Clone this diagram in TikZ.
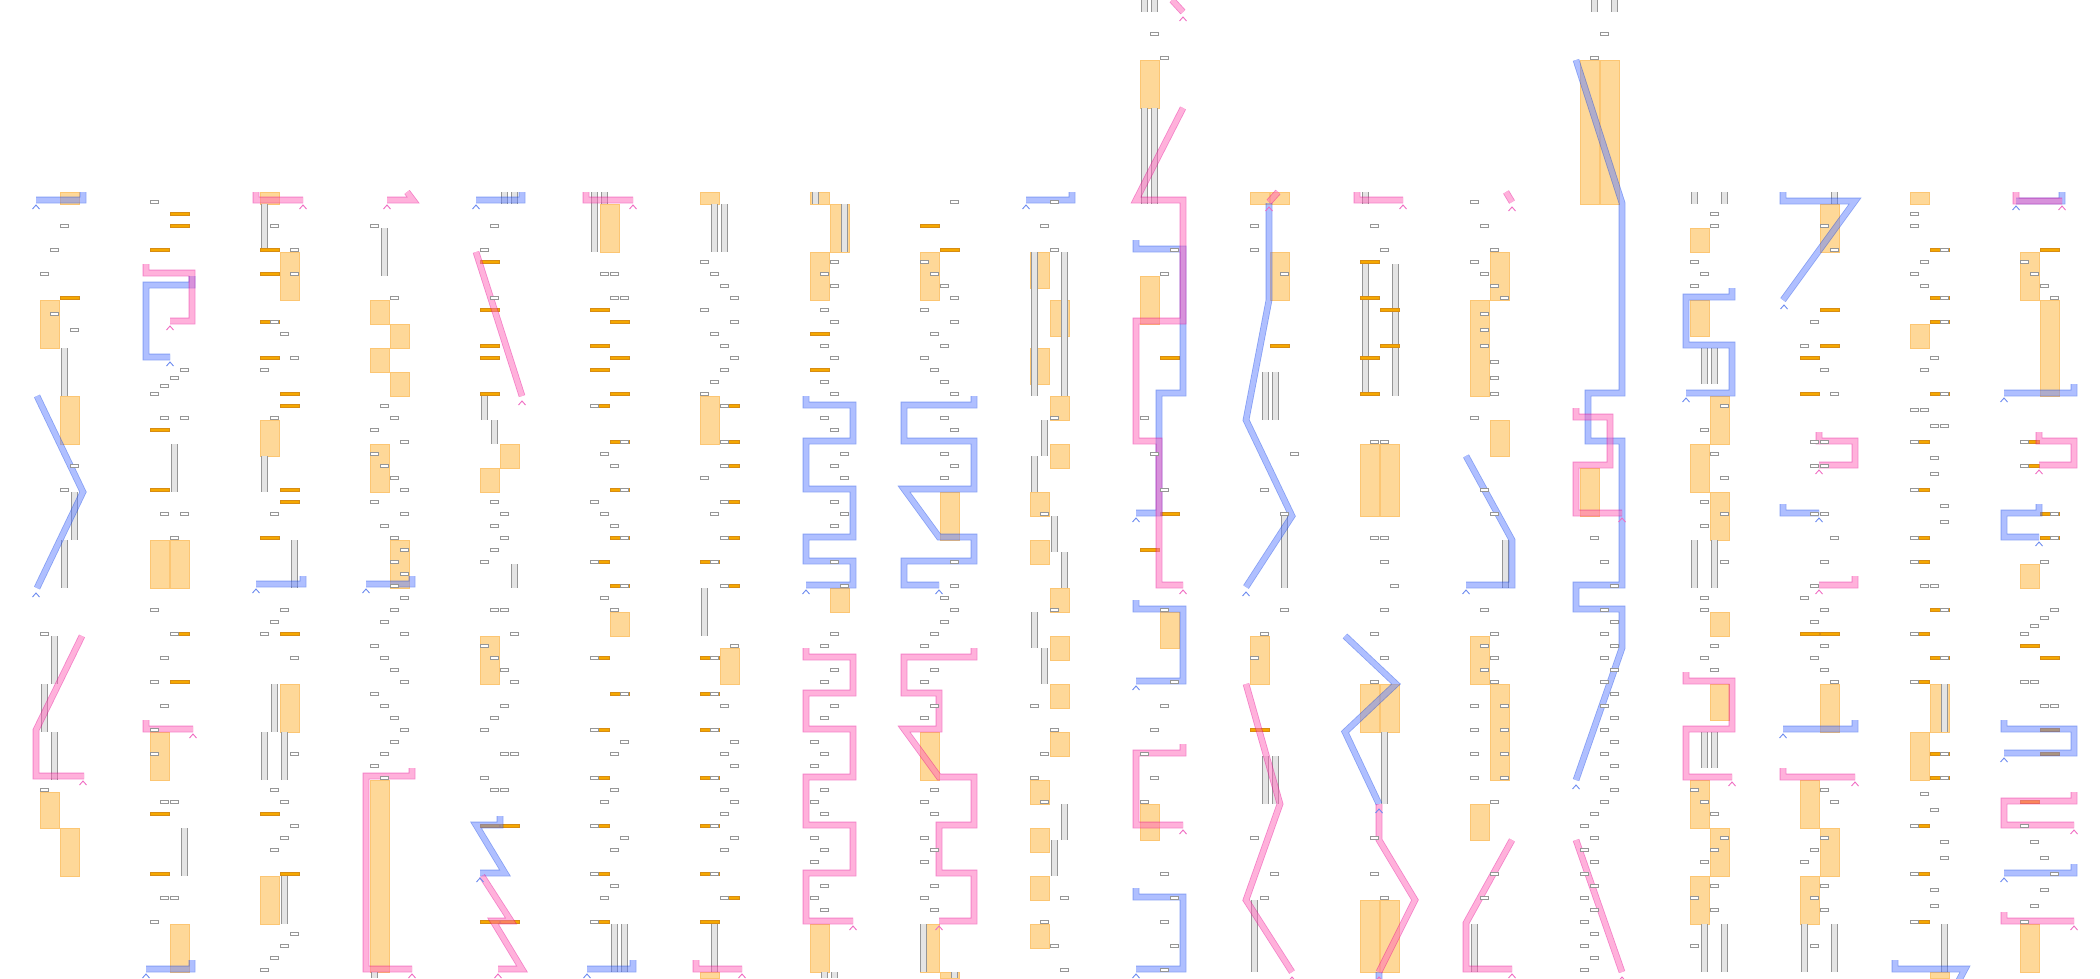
\documentclass[tikz,border=0pt]{standalone}

\definecolor{bedge}{RGB}{15,65,235}
\definecolor{bfill}{RGB}{97,129,255}
\definecolor{pedge}{RGB}{235,5,145}
\definecolor{pfill}{RGB}{255,101,185}
\definecolor{tipblue}{RGB}{110,140,240}
\definecolor{tippink}{RGB}{240,110,195}
\definecolor{blockfill}{RGB}{254,216,152}
\definecolor{blockedge}{RGB}{252,198,115}
\definecolor{slotfill}{RGB}{245,168,0}
\definecolor{slotedge}{RGB}{215,140,20}
\definecolor{markgray}{RGB}{150,150,150}
\definecolor{railfill}{RGB}{228,228,228}

\tikzset{
    bpath/.style={draw=bedge, double=bfill, double distance=5pt, line width=0.8pt, line join=miter},
    ppath/.style={draw=pedge, double=pfill, double distance=5pt, line width=0.8pt, line join=miter},
    btip/.style={draw=tipblue, line width=0.9pt},
    ptip/.style={draw=tippink, line width=0.9pt},
    cellmark/.style={draw=markgray, fill=white, line width=0.7pt},
    slot/.style={draw=slotedge, fill=slotfill, line width=0.5pt},
    block/.style={draw=blockedge, fill=blockfill, line width=0.6pt},
    rail/.style={draw=markgray, line width=0.7pt}
}

\newcommand{\route}[2]{\begin{scope}[transparency group, opacity=0.5]\draw[#1] #2;\end{scope}}
\newcommand{\tipmark}[3]{\draw[#1] (#2-3.5,#3+9) -- (#2,#3+5) -- (#2+3.5,#3+9);}

\begin{document}
\begin{tikzpicture}[x=1pt, y=-1pt]
            \fill[white] (0,0) rectangle (2100,978);
            \useasboundingbox (0,0) rectangle (2100,978);

            % orange blocks
            \foreach \x/\ya/\yb in {
                60/192/204, 40/300/348, 60/396/444, 40/792/828, 60/828/876,
                150/540/588, 170/540/588, 150/732/780, 170/924/972,
                260/192/204, 280/252/300, 260/420/456, 280/684/732, 260/876/924,
                370/300/324, 390/324/348, 370/348/372, 390/372/396, 370/444/492, 390/540/588, 370/780/972,
                500/444/468, 480/468/492, 480/636/684,
                600/204/252, 610/612/636,
                700/192/204, 700/396/444, 720/648/684, 700/972/978,
                810/192/204, 830/204/252, 810/252/300, 830/588/612, 810/924/972,
                920/252/300, 940/492/540, 920/732/780, 920/924/972, 940/972/978,
                1030/252/288, 1050/300/336, 1030/348/384, 1050/396/420, 1050/444/468, 1030/492/516,
                1030/540/564, 1050/588/612, 1050/636/660, 1050/684/708, 1050/732/756, 1030/780/804,
                1030/828/852, 1030/876/900, 1030/924/948,
                1140/60/108, 1140/276/324, 1160/612/648, 1140/804/840,
                1250/192/204, 1270/192/204, 1270/252/300, 1250/636/684,
                1360/444/516, 1380/444/516, 1360/684/732, 1380/684/732, 1360/900/972, 1380/900/972,
                1490/252/300, 1470/300/396, 1490/420/456, 1470/636/684, 1490/684/780, 1470/804/840,
                1580/60/204, 1600/60/204, 1580/468/516,
                1690/228/252, 1690/300/336, 1710/396/444, 1690/444/492, 1710/492/540, 1710/612/636,
                1710/684/720, 1690/780/828, 1710/828/876, 1690/876/924,
                1820/204/252, 1820/684/732, 1800/780/828, 1820/828/876, 1800/876/924,
                1910/192/204, 1910/324/348, 1930/684/732, 1910/732/780, 1930/972/978,
                2020/252/300, 2040/300/396, 2020/564/588, 2020/924/972}
            {
                \draw[block] (\x,\ya) rectangle (\x+19,\yb);
            }

            % grey rails
            \foreach \x/\ya/\yb in {
                61/348/396, 71/492/540, 61/540/588, 51/636/684, 41/684/732, 51/732/780,
                171/444/492, 181/828/876,
                261/204/252, 261/456/492, 291/540/588, 271/684/732, 261/732/780, 281/732/780, 281/876/924,
                381/228/276, 371/972/978,
                501/192/204, 511/192/204, 481/396/420, 491/420/444, 511/564/588,
                591/192/252, 601/192/204, 611/924/972, 621/924/972,
                711/204/252, 721/204/252, 701/588/636, 711/924/972,
                812/192/204, 841/204/252, 821/972/978, 831/972/978,
                920/924/972, 951/972/978,
                1031/252/396, 1061/252/396, 1041/420/456, 1031/456/492, 1051/516/552, 1061/552/588,
                1031/612/648, 1041/648/684, 1061/804/840, 1051/840/876,
                1141/0/12, 1151/0/12, 1141/108/204, 1151/108/204,
                1262/372/420, 1272/372/420, 1281/516/588, 1262/756/804, 1272/756/804, 1251/900/972,
                1362/192/204, 1362/264/396, 1392/264/396, 1381/732/804,
                1502/540/588, 1471/924/972,
                1591/0/12, 1611/0/12,
                1691/192/204, 1721/192/204, 1701/348/384, 1711/348/384, 1691/540/588, 1711/540/588,
                1701/732/768, 1711/732/768, 1701/924/972, 1721/924/972,
                1831/192/204, 1801/924/972, 1831/924/972,
                1941/684/732, 1941/924/972}
            {
                \fill[railfill] (\x,\ya) rectangle (\x+6,\yb);
                \draw[rail] (\x,\ya) -- (\x,\yb) (\x+6,\ya) -- (\x+6,\yb);
            }

            % orange slots
            \foreach \x/\y in {
                60/298,
                170/214, 170/226, 150/250, 150/430, 150/490, 170/634, 170/682, 150/814, 150/874,
                260/250, 260/274, 260/322, 260/358, 280/394, 280/406, 280/490, 280/502, 260/538,
                280/634, 260/814, 280/874,
                480/262, 480/310, 480/346, 480/358, 480/394, 480/826, 500/826, 480/922, 500/922,
                590/310, 610/322, 590/346, 610/358, 590/370, 610/394, 590/406, 610/442, 610/490,
                610/538, 590/562, 610/586, 590/658, 610/694, 590/730, 590/778, 590/826, 590/874, 590/922,
                720/406, 720/442, 720/466, 720/502, 720/538, 700/562, 720/586, 700/658, 700/694,
                700/730, 700/778, 700/826, 700/874, 720/898, 700/922,
                810/334, 810/370,
                920/226, 940/250,
                1160/358, 1160/514, 1140/550,
                1270/346, 1250/730,
                1360/262, 1360/298, 1380/310, 1380/346, 1360/358, 1360/394,
                1820/310, 1820/346, 1800/358, 1800/394, 1800/634, 1820/634,
                1930/250, 1930/298, 1930/322, 1930/394, 1910/442, 1910/490, 1910/538, 1910/562,
                1930/610, 1910/634, 1930/658, 1910/682, 1930/754, 1930/778, 1910/826, 1910/874, 1910/922,
                2040/250, 2020/442, 2020/466, 2040/514, 2040/538, 2020/646, 2040/658, 2040/730,
                2040/754, 2020/802}
            {
                \draw[slot] (\x,\y-1.5) rectangle ++(19,3);
            }

            % blue routes
            \route{bpath}{(83,192) -- (83,200) -- (36,200)}
            \route{bpath}{(37,396) -- (83,492) -- (37,588)}
            \route{bpath}{(192,276) -- (192,285) -- (146,285) -- (146,357) -- (170,357)}
            \route{bpath}{(192,960) -- (192,969) -- (146,969)}
            \route{bpath}{(303,576) -- (303,584) -- (256,584)}
            \route{bpath}{(412,576) -- (412,584) -- (366,584)}
            \route{bpath}{(522,192) -- (522,200) -- (476,200)}
            \route{bpath}{(500,816) -- (500,825) -- (476,825) -- (505,873) -- (480,873)}
            \route{bpath}{(633,960) -- (633,969) -- (587,969)}
            \route{bpath}{(806,396) -- (806,405) -- (853,405) -- (853,441) -- (806,441) -- (806,489)
                -- (853,489) -- (853,537) -- (806,537) -- (806,561) -- (853,561) -- (853,585) -- (806,585)}
            \route{bpath}{(974,396) -- (974,405) -- (904,405) -- (904,441) -- (974,441) -- (974,489)
                -- (904,489) -- (939,537) -- (974,537) -- (974,561) -- (904,561) -- (904,585) -- (939,585)}
            \route{bpath}{(1072,192) -- (1072,200) -- (1026,200)}
            \route{bpath}{(1136,240) -- (1136,249) -- (1183,249) -- (1183,393) -- (1159,393) -- (1159,513) -- (1136,513)}
            \route{bpath}{(1136,600) -- (1136,609) -- (1183,609) -- (1183,681) -- (1136,681)}
            \route{bpath}{(1136,888) -- (1136,897) -- (1183,897) -- (1183,969) -- (1136,969)}
            \route{bpath}{(1269,203) -- (1269,300) -- (1246,420) -- (1292,516) -- (1246,587)}
            \route{bpath}{(1345,636) -- (1396,684) -- (1345,732) -- (1379,804)}
            \route{bpath}{(1379,972) -- (1379,984)}
            \route{bpath}{(1466,456) -- (1512,540) -- (1512,585) -- (1466,585)}
            \route{bpath}{(1576,60) -- (1622,203) -- (1622,393) -- (1588,393) -- (1588,441) -- (1622,441)
                -- (1622,585) -- (1576,585) -- (1576,609) -- (1622,609) -- (1622,648) -- (1576,780)}
            \route{bpath}{(1732,288) -- (1732,297) -- (1686,297) -- (1686,345) -- (1732,345) -- (1732,393) -- (1686,393)}
            \route{bpath}{(1783,192) -- (1783,201) -- (1855,201) -- (1783,300)}
            \route{bpath}{(1783,504) -- (1783,513) -- (1819,513)}
            \route{bpath}{(1855,720) -- (1855,729) -- (1783,729)}
            \route{bpath}{(1895,960) -- (1895,969) -- (1965,969) -- (1957,984)}
            \route{bpath}{(2062,192) -- (2062,201) -- (2016,201)}
            \route{bpath}{(2074,384) -- (2074,393) -- (2004,393)}
            \route{bpath}{(2039,504) -- (2039,513) -- (2004,513) -- (2004,537) -- (2039,537)}
            \route{bpath}{(2004,720) -- (2004,729) -- (2074,729) -- (2074,753) -- (2004,753)}
            \route{bpath}{(2074,864) -- (2074,873) -- (2004,873)}

            % pink routes
            \route{ppath}{(82,636) -- (36,730) -- (36,776) -- (84,776)}
            \route{ppath}{(146,264) -- (146,273) -- (192,273) -- (192,321) -- (170,321)}
            \route{ppath}{(146,720) -- (146,729) -- (193,729)}
            \route{ppath}{(256,192) -- (256,200) -- (303,200)}
            \route{ppath}{(407,192) -- (413,200) -- (387,200)}
            \route{ppath}{(412,768) -- (412,776) -- (366,776) -- (366,969) -- (412,969)}
            \route{ppath}{(476,252) -- (522,396)}
            \route{ppath}{(482,876) -- (511,921) -- (493,921) -- (522,969) -- (498,969)}
            \route{ppath}{(586,192) -- (586,200) -- (633,200)}
            \route{ppath}{(696,960) -- (696,969) -- (742,969)}
            \route{ppath}{(806,648) -- (806,657) -- (853,657) -- (853,693) -- (806,693) -- (806,729) -- (853,729)
                -- (853,777) -- (806,777) -- (806,825) -- (853,825) -- (853,873) -- (806,873) -- (806,921) -- (853,921)}
            \route{ppath}{(974,648) -- (974,657) -- (904,657) -- (904,693) -- (939,693) -- (939,729) -- (904,729)
                -- (939,777) -- (974,777) -- (974,825) -- (939,825) -- (939,873) -- (974,873) -- (974,921) -- (939,921)}
            \route{ppath}{(1172,0) -- (1183,12)}
            \route{ppath}{(1183,108) -- (1136,200) -- (1183,200) -- (1183,321) -- (1136,321) -- (1136,441)
                -- (1159,441) -- (1159,585) -- (1183,585)}
            \route{ppath}{(1183,744) -- (1183,753) -- (1136,753) -- (1136,825) -- (1183,825)}
            \route{ppath}{(1278,192) -- (1269,202)}
            \route{ppath}{(1246,684) -- (1280,804) -- (1246,900) -- (1292,972)}
            \route{ppath}{(1357,192) -- (1357,200) -- (1403,200)}
            \route{ppath}{(1379,804) -- (1379,840) -- (1415,900) -- (1379,972)}
            \route{ppath}{(1506,192) -- (1512,202)}
            \route{ppath}{(1512,840) -- (1466,923) -- (1466,969) -- (1512,969)}
            \route{ppath}{(1576,408) -- (1576,417) -- (1610,417) -- (1610,465) -- (1576,465) -- (1576,513) -- (1622,513)}
            \route{ppath}{(1576,840) -- (1622,972)}
            \route{ppath}{(1686,672) -- (1686,681) -- (1732,681) -- (1732,729) -- (1686,729) -- (1686,777) -- (1732,777)}
            \route{ppath}{(1819,432) -- (1819,441) -- (1855,441) -- (1855,465) -- (1819,465)}
            \route{ppath}{(1855,576) -- (1855,585) -- (1819,585)}
            \route{ppath}{(1783,768) -- (1783,777) -- (1855,777)}
            \route{ppath}{(2016,192) -- (2016,201) -- (2062,201)}
            \route{ppath}{(2039,432) -- (2039,441) -- (2074,441) -- (2074,465) -- (2039,465)}
            \route{ppath}{(2074,792) -- (2074,801) -- (2004,801) -- (2004,825) -- (2074,825)}
            \route{ppath}{(2004,912) -- (2004,921) -- (2074,921)}

            % grey cell marks
            \foreach \x/\y in {
                60/226, 50/250, 40/274, 50/314, 70/330, 70/466, 60/490, 40/634, 40/790,
                150/202, 180/370, 170/378, 160/386, 150/394, 160/418, 180/418, 160/514, 180/514, 170/538,
                150/610, 170/634, 160/658, 150/682, 160/706, 150/730, 150/754, 160/802, 170/802,
                160/898, 170/898, 150/922,
                270/226, 290/250, 290/274, 270/322, 280/334, 290/358, 260/370, 270/418, 270/514,
                280/610, 270/622, 260/634, 290/658, 290/754, 270/790, 280/802, 290/826, 280/838,
                270/850, 290/934, 280/946, 270/958, 260/970,
                370/226, 390/298, 380/406, 390/418, 370/430, 400/442, 370/454, 380/466, 390/478,
                400/490, 370/502, 400/514, 380/526, 390/538, 400/550, 390/562, 400/574, 390/586,
                400/598, 390/610, 380/622, 400/634, 370/646, 380/658, 390/670, 400/682, 370/694,
                380/706, 390/718, 400/730, 390/742, 380/754, 370/766, 380/778,
                490/226, 480/250, 490/298, 490/502, 500/514, 490/526, 500/538, 490/550, 480/562,
                490/610, 500/610, 510/634, 480/646, 490/658, 500/670, 510/682, 500/706, 490/718,
                480/730, 500/754, 510/754, 480/778, 490/790, 500/790,
                600/274, 610/274, 610/298, 620/298, 590/406, 620/442, 600/454, 610/466, 620/490,
                590/502, 600/514, 610/526, 620/538, 590/562, 620/586, 600/598, 610/610, 590/658,
                620/694, 590/730, 620/742, 610/754, 590/778, 610/790, 600/802, 590/826, 620/838,
                610/850, 590/874, 610/886, 600/898, 590/922,
                700/262, 710/274, 720/286, 730/298, 700/310, 730/322, 710/334, 720/346, 730/358,
                720/370, 710/382, 700/394, 720/406, 720/442, 720/466, 700/478, 720/502, 710/514,
                720/538, 710/562, 720/586, 730/646, 710/658, 710/694, 720/706, 710/730, 730/742,
                720/754, 730/766, 710/778, 720/790, 730/802, 720/814, 710/826, 730/838, 720/850,
                710/874, 720/898,
                830/262, 820/274, 830/286, 820/310, 830/322, 820/346, 830/358, 820/382, 830/394,
                820/418, 830/430, 840/454, 830/466, 840/478, 830/502, 840/514, 830/526, 830/562,
                840/586, 830/634, 820/646, 830/670, 820/682, 830/706, 820/718, 810/742, 820/754,
                810/766, 820/790, 810/802, 820/814, 810/838, 820/850, 810/862, 820/886, 810/898, 820/910,
                950/202, 920/262, 930/274, 940/286, 950/298, 920/310, 950/322, 930/334, 940/346,
                920/358, 930/370, 940/382, 950/394, 940/418, 950/430, 940/454, 950/466, 940/478,
                950/562, 950/586, 940/598, 950/610, 940/622, 930/634, 920/646, 930/670, 920/682,
                930/706, 920/718, 930/790, 920/802, 930/814, 920/838, 930/850, 920/862, 930/886,
                920/898, 930/910,
                1050/202, 1040/226, 1050/250, 1050/418, 1040/514, 1050/610, 1030/706, 1050/730,
                1040/754, 1030/778, 1040/802, 1060/898, 1040/922, 1050/946, 1060/970,
                1150/34, 1160/58, 1170/250, 1160/274, 1140/418, 1150/454, 1160/490, 1160/610,
                1170/682, 1160/706, 1150/730, 1140/754, 1150/778, 1140/802, 1160/874, 1170/898,
                1160/922, 1170/946, 1160/970,
                1250/226, 1250/250, 1280/274, 1290/454, 1260/490, 1280/514, 1280/610, 1260/634,
                1250/658, 1250/838, 1270/874, 1260/898,
                1370/226, 1380/250, 1370/442, 1380/442, 1370/538, 1380/538, 1380/562, 1390/586,
                1380/610, 1370/634, 1380/658, 1370/682, 1370/838, 1370/874, 1380/898,
                1470/202, 1480/226, 1490/250, 1470/262, 1480/274, 1490/286, 1500/298, 1480/314,
                1480/330, 1480/346, 1490/362, 1490/378, 1490/394, 1470/418, 1480/490, 1490/514,
                1480/610, 1490/634, 1480/646, 1490/658, 1480/670, 1490/682, 1470/706, 1500/706,
                1470/730, 1500/730, 1470/754, 1500/754, 1470/778, 1500/778, 1490/802, 1490/874, 1480/898,
                1600/34, 1590/58, 1590/538, 1600/562, 1610/586, 1600/610, 1610/622, 1600/634,
                1610/646, 1600/658, 1610/670, 1600/682, 1610/694, 1600/706, 1610/718, 1600/730,
                1610/742, 1600/754, 1610/766, 1600/778, 1610/790, 1600/802, 1590/814, 1580/826,
                1590/838, 1580/850, 1590/862, 1580/874, 1590/886, 1580/898, 1590/910, 1580/922,
                1590/934, 1580/946, 1590/958, 1580/970,
                1710/214, 1710/226, 1690/262, 1700/274, 1690/286, 1720/406, 1700/430, 1710/454,
                1720/478, 1700/502, 1720/514, 1700/526, 1720/562, 1700/598, 1700/610, 1710/646,
                1700/658, 1710/670, 1690/790, 1700/802, 1710/814, 1720/838, 1710/850, 1700/862,
                1710/886, 1690/898, 1710/910, 1690/946,
                1820/226, 1830/250, 1810/322, 1800/346, 1820/370, 1830/394, 1810/442, 1820/442,
                1810/466, 1820/466, 1810/514, 1820/514, 1830/538, 1820/562, 1810/586, 1800/598,
                1820/610, 1810/622, 1820/646, 1810/658, 1820/670, 1830/682, 1820/790, 1830/802,
                1820/838, 1810/850, 1800/862, 1820/886, 1810/898, 1820/910, 1810/946,
                1910/214, 1910/226, 1940/250, 1920/262, 1910/274, 1920/286, 1940/298, 1940/322,
                1930/358, 1920/370, 1940/394, 1910/410, 1920/410, 1930/426, 1940/426, 1910/442,
                1930/458, 1930/474, 1910/490, 1940/506, 1940/522, 1910/538, 1910/562, 1920/586,
                1930/586, 1940/610, 1910/634, 1940/658, 1910/682, 1940/754, 1940/778, 1920/794,
                1930/810, 1910/826, 1940/842, 1940/858, 1910/874, 1930/890, 1930/906, 1910/922,
                2020/262, 2030/274, 2040/286, 2050/298, 2020/442, 2020/466, 2050/514, 2050/538,
                2040/562, 2050/610, 2040/618, 2030/626, 2020/634, 2020/682, 2030/682, 2040/706,
                2050/706, 2020/826, 2030/842, 2040/858, 2050/874, 2040/890, 2030/906, 2020/922}
            {
                \draw[cellmark] (\x,\y-1.5) rectangle ++(8,3);
            }

            % route ends
            \foreach \x/\y in {
                36/200, 36/588, 170/357, 146/969, 256/584, 366/584, 476/200, 480/873, 587/969,
                806/585, 939/585, 1026/200, 1136/513, 1136/681, 1136/969, 1246/587, 1379/804,
                1466/585, 1576/780, 1686/393, 1784/300, 1819/513, 1783/729, 2016/201, 2004/393,
                2039/537, 2004/753, 2004/873}
            {
                \tipmark{btip}{\x}{\y}
            }
            \foreach \x/\y in {
                83/776, 170/321, 193/729, 303/200, 387/200, 412/969, 522/396, 498/969, 633/200,
                742/969, 853/921, 939/921, 1183/12, 1183/585, 1183/825, 1269/202, 1292/972,
                1403/200, 1379/972, 1512/202, 1512/969, 1622/513, 1622/972, 1732/777, 1819/465,
                1819/585, 1855/777, 2062/201, 2039/465, 2074/825, 2074/921}
            {
                \tipmark{ptip}{\x}{\y}
            }
\end{tikzpicture}
\end{document}
